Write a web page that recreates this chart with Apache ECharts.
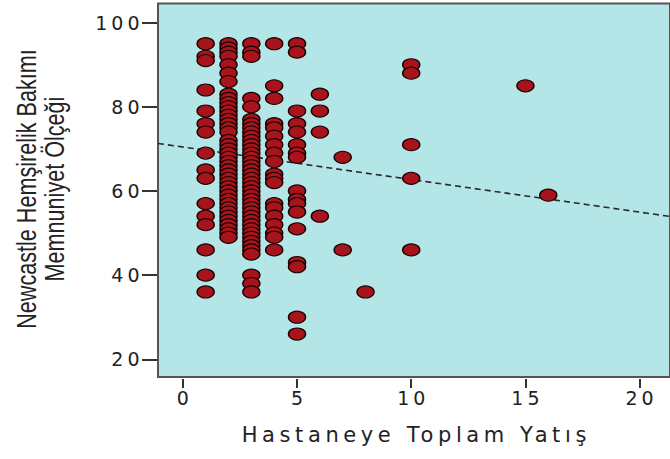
<!DOCTYPE html>
<html><head><meta charset="utf-8">
<script src="https://cdn.jsdelivr.net/npm/echarts@6/dist/echarts.min.js"></script>
<style>
html,body{margin:0;padding:0;background:#fff;}
#c{width:670px;height:459px;}
#c text[style*="19px"]{letter-spacing:4px;}
#c text[style*="21px"]{letter-spacing:4.6px;}
</style></head><body><div id="c"></div>
<script>
// ---- data ----
const xTickValues = [0, 5, 10, 15, 20];
const yTickValues = [20, 40, 60, 80, 100];
const xAxisTitle = 'Hastaneye Toplam Yatış';
const yAxisTitle = 'Newcastle Hemşirelik Bakımı\nMemnuniyet Ölçeği';

const admissions = [1, 2, 3, 4, 5, 6, 7, 8, 10, 15, 16];
const scoresAt1 = [95, 92, 91, 84, 79, 76, 74, 69, 65, 63, 57, 54, 52, 46, 40, 36];
const scoresAt2 = [95, 94, 93, 92, 90, 88, 86, 83, 82, 81, 80, 79, 78, 77, 76, 75, 74, 72, 71, 70, 69, 68, 67, 66, 65, 64, 63, 62, 61, 60, 59, 58, 57, 56, 55, 54, 53, 52, 51, 50, 49];
const scoresAt3 = [95, 93, 92, 82, 80, 77, 76, 75, 74, 73, 72, 71, 70, 69, 68, 67, 66, 65, 64, 63, 62, 61, 60, 59, 58, 57, 56, 55, 54, 53, 52, 51, 50, 49, 48, 47, 46, 45, 40, 38, 36];
const scoresAt4 = [95, 85, 82, 76, 75, 73, 71, 69, 67, 64, 63, 62, 57, 56, 54, 52, 50, 49, 46];
const scoresAt5 = [95, 93, 79, 76, 74, 71, 69, 68, 60, 58, 57, 55, 51, 43, 42, 30, 26];
const scoresAt6 = [83, 79, 74, 54];
const scoresAt7 = [68, 46];
const scoresAt8 = [36];
const scoresAt10 = [90, 88, 71, 63, 46];
const scoresAt15 = [85];
const scoresAt16 = [59];
const scoreColumns = [scoresAt1, scoresAt2, scoresAt3, scoresAt4, scoresAt5, scoresAt6, scoresAt7, scoresAt8, scoresAt10, scoresAt15, scoresAt16];

// fit line end points (read at the plot edges)
const fitLineX = [-1.087, 21.33];
const fitLineY = [71.3, 53.95];

// ---- build ----
const points = [];
admissions.forEach((x, i) => scoreColumns[i].forEach(y => points.push([x, y])));
const fitLine = fitLineX.map((x, i) => [x, fitLineY[i]]);

const chart = echarts.init(document.getElementById('c'), null, {renderer: 'svg'});
chart.setOption({
  animation: false,
  backgroundColor: '#ffffff',
  grid: {
    left: 158, top: 3.5, width: 522, height: 373.5,
    show: true, backgroundColor: '#b4e5e7', borderColor: '#555555', borderWidth: 2
  },
  graphic: [{
    type: 'text', x: 41, y: 189, rotation: Math.PI / 2, scaleX: 0.8, scaleY: 1,
    style: {
      text: yAxisTitle, font: '27px "Liberation Sans", Arial, sans-serif', lineHeight: 28,
      fill: '#222', align: 'center', verticalAlign: 'middle'
    }
  }],
  xAxis: {
    type: 'value', min: fitLineX[0], max: fitLineX[1], offset: 2,
    splitLine: {show: false},
    axisLine: {show: false, onZero: false},
    axisTick: {show: true, length: 9, customValues: xTickValues, lineStyle: {color: '#333', width: 2}},
    axisLabel: {customValues: xTickValues, margin: 9.5, padding: [0, 0, 0, 4],
      fontFamily: 'DejaVu Sans', fontSize: 19, color: '#222'},
    name: xAxisTitle, nameLocation: 'middle', nameGap: 45,
    nameTextStyle: {fontFamily: 'DejaVu Sans', fontSize: 21, color: '#222', padding: [0, 0, 0, 4.6]}
  },
  yAxis: {
    type: 'value', min: 15.79, max: 104.56, offset: 1,
    splitLine: {show: false},
    axisLine: {show: false, onZero: false},
    axisTick: {show: true, length: 15, customValues: yTickValues, lineStyle: {color: '#333', width: 2}},
    axisLabel: {customValues: yTickValues, margin: 13.5, padding: [4, 0, 0, 0],
      fontFamily: 'DejaVu Sans', fontSize: 19, color: '#222'}
  },
  series: [
    {
      type: 'line', data: fitLine, symbol: 'none', silent: true, z: 1,
      lineStyle: {color: '#2a2a2a', width: 1.6, type: [6, 4]}
    },
    {
      type: 'scatter', data: points, symbol: 'circle', symbolSize: [17, 12], z: 2,
      itemStyle: {color: '#a8141b', borderColor: '#1a0202', borderWidth: 1.3, opacity: 1}
    }
  ]
});
</script></body></html>
